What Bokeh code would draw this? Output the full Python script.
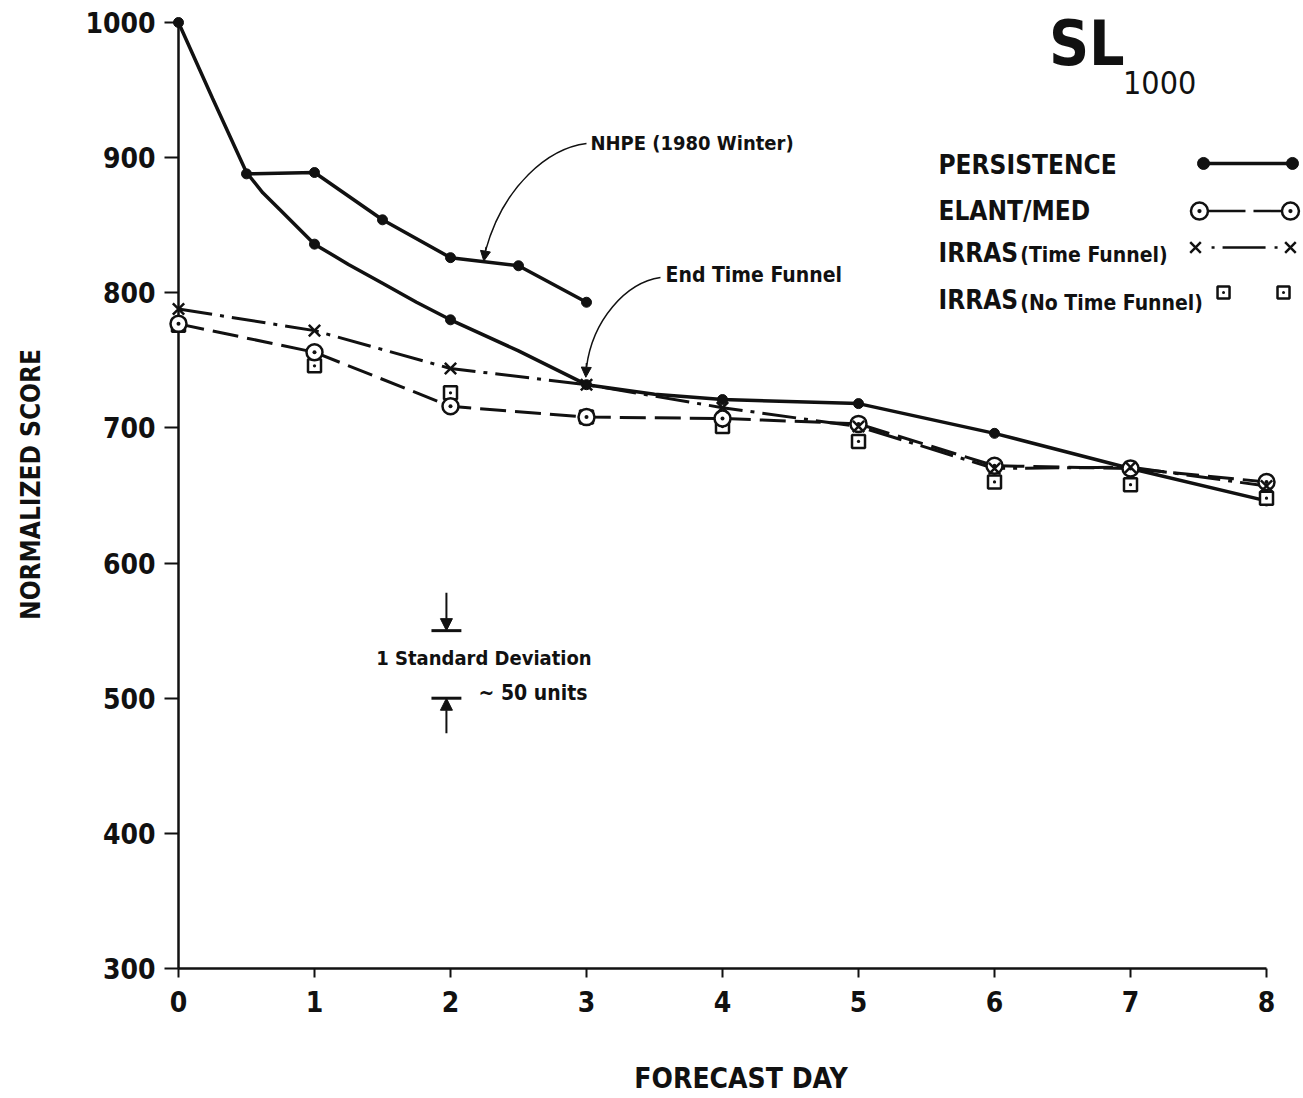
from bokeh.plotting import figure
from bokeh.models import FixedTicker, Label, Arrow, NormalHead, Range1d
from bokeh.embed import file_html
from bokeh.resources import INLINE

FONT = "DejaVu Sans Condensed, Roboto"

# ---------------- data ----------------
forecast_days = [0, 1, 2, 3, 4, 5, 6, 7, 8]
persistence = [1000, 836, 780, 732, 721, 718, 696, 670, 646]
# drawn persistence curve
persistence_curve_days = [0, 0.25, 0.5, 0.62, 0.75, 1, 1.25, 1.5, 1.75, 2, 2.5, 3, 3.5, 4, 5, 6, 7, 8]
persistence_curve = [1000, 944, 889, 874, 861, 836, 821, 807, 793, 780, 757, 732, 725, 721, 718, 696, 670, 646]

nhpe_days = [0.5, 1, 1.5, 2, 2.5, 3]
nhpe = [888, 889, 854, 826, 820, 793]

elant_med = [777, 756, 716, 708, 707, 703, 672, 670, 660]
irras_tf = [788, 772, 744, 732, 715, 701, 670, 671, 657]
irras_ntf = [776, 746, 726, 708, 701, 690, 660, 658, 648]

std_dev_day = 1.97
std_dev_band = [500, 550]

x_ticks = [0, 1, 2, 3, 4, 5, 6, 7, 8]
y_ticks = [300, 400, 500, 600, 700, 800, 900, 1000]

INK = "#111111"

# ---------------- figure ----------------
p = figure(width=1303, height=1098, output_backend="svg", toolbar_location=None,
           x_range=Range1d(0, 8.272), y_range=Range1d(300, 1016.28),
           min_border_left=178, min_border_right=0, min_border_top=0, min_border_bottom=130)
p.outline_line_color = None
p.grid.visible = False
p.background_fill_color = "white"

for ax in (p.xaxis[0], p.yaxis[0]):
    ax.axis_line_width = 2.5
    ax.axis_line_color = INK
    ax.major_tick_line_width = 2
    ax.major_tick_line_color = INK
    ax.major_tick_in = 0
    ax.minor_tick_line_color = None
    ax.major_label_text_font = FONT
    ax.major_label_text_font_style = "bold"
    ax.major_label_text_color = INK
    ax.axis_label_text_font = FONT
    ax.axis_label_text_font_style = "bold"
    ax.axis_label_text_color = INK

p.xaxis.ticker = FixedTicker(ticks=x_ticks)
p.xaxis.bounds = (0, 8)
p.xaxis.major_tick_out = 9
p.xaxis.major_label_standoff = 13
p.xaxis.major_label_text_font_size = "28px"
p.xaxis.axis_label = "FORECAST DAY"
p.xaxis.axis_label_text_font_size = "28px"
p.xaxis.axis_label_standoff = 47

p.yaxis.ticker = FixedTicker(ticks=y_ticks)
p.yaxis.bounds = (300, 1000)
p.yaxis.major_tick_out = 14
p.yaxis.major_label_standoff = 9
p.yaxis.major_label_text_font_size = "28px"
p.yaxis.axis_label = "NORMALIZED SCORE"
p.yaxis.axis_label_text_font_size = "26px"
p.yaxis.axis_label_standoff = 36

# ---------------- series ----------------
def ov(r):
    r.level = "overlay"
    return r

ov(p.line(persistence_curve_days, persistence_curve, line_width=3.5, line_color=INK))
ov(p.scatter(forecast_days, persistence, size=10, color=INK))

ov(p.line(nhpe_days, nhpe, line_width=3.5, line_color=INK))
ov(p.scatter(nhpe_days, nhpe, size=10, color=INK))

ov(p.line(forecast_days, elant_med, line_width=3, line_color=INK, line_dash="26 9"))
ov(p.line(forecast_days, irras_tf, line_width=3, line_color=INK, line_dash="34 8 4 8"))

ov(p.scatter(forecast_days, irras_ntf, marker="square_dot", size=13, line_width=2.5,
             line_color=INK, fill_color="white"))
ov(p.scatter(forecast_days, elant_med, marker="circle_dot", size=16, line_width=2.5,
             line_color=INK, fill_color="white"))
ov(p.scatter(forecast_days, irras_tf, marker="x", size=16, line_width=2.5, line_color=INK))

# ---------------- std deviation bracket ----------------
p.segment(x0=[std_dev_day - 0.11] * 2, x1=[std_dev_day + 0.11] * 2,
          y0=std_dev_band, y1=std_dev_band, line_width=3, line_color=INK)
p.add_layout(Arrow(x_start=std_dev_day, y_start=std_dev_band[1] + 28, x_end=std_dev_day,
                   y_end=std_dev_band[1], line_width=2, line_color=INK,
                   end=NormalHead(size=12, fill_color=INK, line_color=INK)))
p.add_layout(Arrow(x_start=std_dev_day, y_start=std_dev_band[0] - 26, x_end=std_dev_day,
                   y_end=std_dev_band[0], line_width=2, line_color=INK,
                   end=NormalHead(size=12, fill_color=INK, line_color=INK)))

def label(x, y, text, size, align="left", style="bold"):
    p.add_layout(Label(x=x, y=y, text=text, text_font=FONT, text_font_size=size,
                       text_font_style=style, text_align=align, text_baseline="middle",
                       text_color=INK))

label(2.246, 530.1, "1 Standard Deviation", "20px", align="center")
label(2.206, 503.5, "~ 50 units", "21px")

# ---------------- NHPE annotation ----------------
label(3.029, 911.2, "NHPE (1980 Winter)", "20px")
p.bezier(x0=[3.0], y0=[910.5], x1=[2.257], y1=[831.0], cx0=[2.72], cy0=[907.0],
         cx1=[2.39], cy1=[879.4], line_width=1.5, line_color=INK)
p.add_layout(Arrow(x_start=2.262, y_start=834.0, x_end=2.245, y_end=823.5, line_width=1.5,
                   line_color=INK, end=NormalHead(size=10, fill_color=INK, line_color=INK)))

# ---------------- End Time Funnel annotation ----------------
label(3.581, 813.5, "End Time Funnel", "21px")
p.bezier(x0=[3.544], y0=[811.3], x1=[3.0], y1=[745.0], cx0=[3.287], cy0=[807.6],
         cx1=[3.044], cy1=[779.5], line_width=1.5, line_color=INK)
p.add_layout(Arrow(x_start=3.0, y_start=748.0, x_end=2.995, y_end=737.5, line_width=1.5,
                   line_color=INK, end=NormalHead(size=10, fill_color=INK, line_color=INK)))

# ---------------- title ----------------
label(6.40, 984.8, "SL", "62px")
label(6.945, 955.8, "1000", "32px", style="normal")

# ---------------- legend ----------------
label(5.588, 894.9, "PERSISTENCE", "26px")
label(5.588, 860.5, "ELANT/MED", "26px")
label(5.588, 829.1, "IRRAS", "26px")
label(6.19, 827.6, "(Time Funnel)", "21px")
label(5.588, 794.3, "IRRAS", "26px")
label(6.19, 792.8, "(No Time Funnel)", "21px")

ov(p.line([7.537, 8.191], [895.7, 895.7], line_width=3.5, line_color=INK))
ov(p.scatter([7.537, 8.191], [895.7, 895.7], size=12, color=INK))

ov(p.line([7.566, 8.125], [860.5, 860.5], line_width=2.5, line_color=INK, line_dash="38 8"))
ov(p.scatter([7.507, 8.176], [860.5, 860.5], marker="circle_dot", size=17, line_width=2.5,
             line_color=INK, fill_color="white"))

ov(p.line([7.596, 8.096], [833.5, 833.5], line_width=2.5, line_color=INK, line_dash="3 8 43 9 3"))
ov(p.scatter([7.478, 8.176], [833.5, 833.5], marker="x", size=15, line_width=2.5, line_color=INK))

ov(p.scatter([7.684, 8.125], [800.2, 800.2], marker="square_dot", size=12, line_width=2.5,
             line_color=INK, fill_color="white"))

open("out.html", "w").write(file_html(p, INLINE))
